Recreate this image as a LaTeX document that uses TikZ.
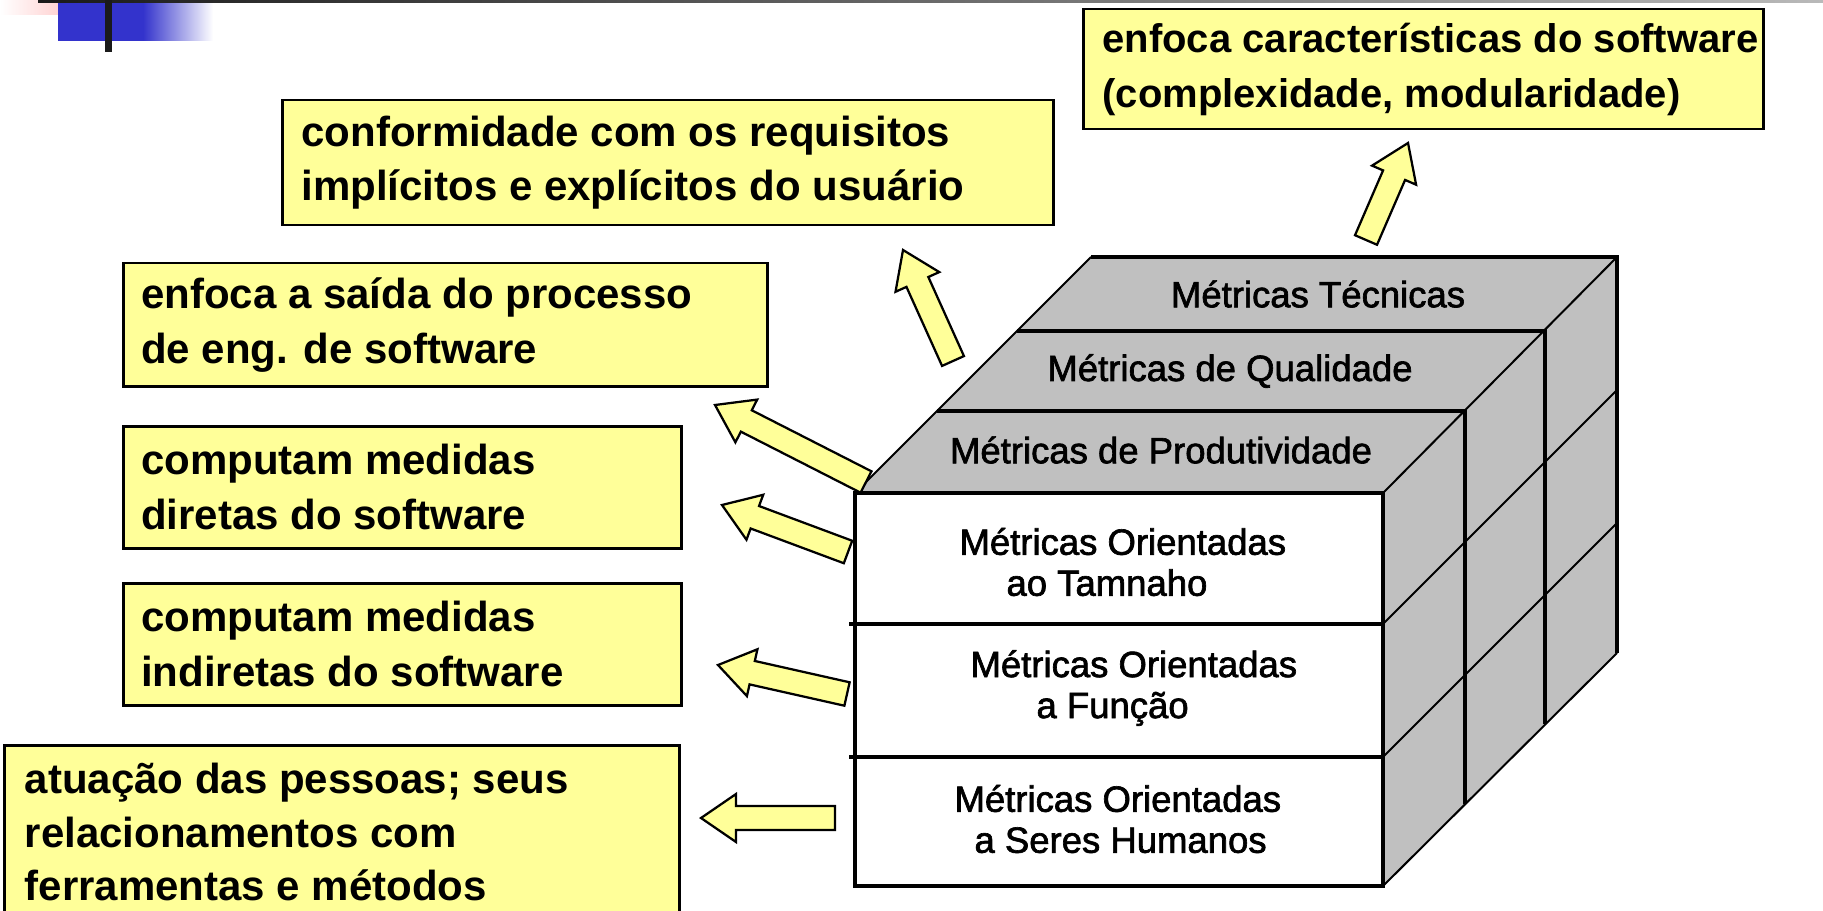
\documentclass[tikz,border=0pt]{standalone}
\usepackage{fontspec}
\setmainfont{Liberation Sans}
\newfontfamily\cubefont[FakeBold=1.8]{Liberation Sans}
\usetikzlibrary{calc,positioning}
\definecolor{noteyellow}{HTML}{FFFF99}
\definecolor{facegray}{HTML}{C0C0C0}
\definecolor{titleblue}{HTML}{3333CC}
\definecolor{barblack}{HTML}{1A1A1A}
\definecolor{titlepink}{HTML}{FFBDBD}
\tikzset{
  notebox/.style={draw=black, line width=1pt, fill=noteyellow, anchor=north west, inner sep=0pt},
  notetext/.style={anchor=west, align=left, inner sep=0pt, font=\bfseries\fontsize{16.8}{21.9}\selectfont},
  arrowbody/.style={draw=black, line width=0.9pt, fill=noteyellow, line join=miter},
  cubeline/.style={line width=1.3pt},
  cubethin/.style={line width=0.8pt},
  cubetext/.style={align=left, inner sep=0pt, font=\cubefont\fontsize{14.6}{16.4}\selectfont}
}
% block arrow from tail #1 to tip #2
\newcommand \blockarrow[2]
{
\draw[arrowbody] let \p1=($(#2)-(#1)$), \n1={atan2(\y1,\x1)}, \n2={veclen(\x1,\y1)-14pt} in
  ($(#1)+(\n1+90:4.8pt)$) -- ($(#1)+(\n1:\n2)+(\n1+90:4.8pt)$) -- ($(#1)+(\n1:\n2)+(\n1+90:9.6pt)$) -- (#2)
  -- ($(#1)+(\n1:\n2)+(\n1-90:9.6pt)$) -- ($(#1)+(\n1:\n2)+(\n1-90:4.8pt)$) -- ($(#1)+(\n1-90:4.8pt)$) -- cycle;
}
\begin{document}
\begin{tikzpicture}[x=0.4pt, y=-0.4pt, line join=miter]
\useasboundingbox[fill=white] (0,0) rectangle (1823,911);
\clip (0,0) rectangle (1823,911);
% title decoration
\shade[left color=white, right color=titlepink] (0,0) rectangle (90,15);
\fill[titleblue] (58,3) rectangle (143,41);
\shade[left color=titleblue, right color=white] (143,3) rectangle (213,41);
\shade[left color=barblack, right color=gray!55] (38,0) rectangle (1823,3);
\fill[barblack] (105,0) rectangle (112,52);

% cube faces
\fill[facegray] (855,493)--(1383,493)--(1617,257)--(1091,257)--cycle;
\fill[facegray] (1383,493)--(1617,257)--(1617,653)--(1383,886)--cycle;
\fill[white] (855,493) rectangle (1383,886);
\draw[cubethin] (855,493)--(1091,257);
\draw[cubethin] (1383,493)--(1617,257);
\draw[cubethin] (1383,624)--(1617,390);
\draw[cubethin] (1383,757)--(1617,523);
\draw[cubethin] (1383,886)--(1617,653);
\draw[cubeline] (1091,257)--(1617,257)--(1617,653);
\draw[cubeline] (1017,331)--(1545,331)--(1545,724);
\draw[cubeline] (937,411)--(1465,411)--(1465,804);
\draw[cubeline] (855,493) rectangle (1383,886);
\draw[cubeline] (849,624)--(1383,624);
\draw[cubeline] (849,757)--(1383,757);

% cube labels
\node[cubetext, anchor=center] (tec)  at (1318,294) {Métricas Técnicas};
\node[cubetext, anchor=center] (qual) at (1230,371) {Métricas de Qualidade};
\node[cubetext, anchor=center] (prod) at (1161,450) {Métricas de Produtividade};
\node[cubetext, anchor=west] (tam) at (959,562) {Métricas Orientadas\\\hspace*{18.8pt}ao Tamnaho};
\node[cubetext, anchor=west] (func) at (970,688) {Métricas Orientadas\\\hspace*{26.4pt}a Função};
\node[cubetext, anchor=west] (hum) at (954,819) {Métricas Orientadas\\\hspace*{8pt}a Seres Humanos};

% notes
\node[notebox, minimum width=272pt, minimum height=48pt] (tecbox) at (1082,8) {};
\node[notetext, font=\bfseries\fontsize{16}{21.9}\selectfont] (tecnote) at ([xshift=8pt]tecbox.west) {enfoca características do software\\(complexidade, modularidade)};
\node[notebox, minimum width=308.4pt, minimum height=50pt] (qualbox) at (281,99) {};
\node[notetext] (qualnote) at ([xshift=8pt]qualbox.west) {conformidade com os requisitos\\implícitos e explícitos do usuário};
\node[notebox, minimum width=257.6pt, minimum height=49.2pt] (prodbox) at (122,262) {};
\node[notetext] (prodnote) at ([xshift=7.5pt]prodbox.west) {enfoca a saída do processo\\de eng. de software};
\node[notebox, minimum width=223.2pt, minimum height=48.8pt] (tambox) at (122,425) {};
\node[notetext] (tamnote) at ([xshift=7.5pt]tambox.west) {computam medidas\\diretas do software};
\node[notebox, minimum width=223.2pt, minimum height=48.8pt] (funcbox) at (122,582) {};
\node[notetext] (funcnote) at ([xshift=7.5pt]funcbox.west) {computam medidas\\indiretas do software};
\node[notebox, minimum width=270pt, minimum height=74.4pt] (humbox) at (3,744) {};
\node[notetext, font=\bfseries\fontsize{16.8}{21.4}\selectfont] (humnote) at ([xshift=8.5pt,yshift=2.4pt]humbox.west) {atuação das pessoas; seus\\relacionamentos com\\ferramentas e métodos};

% arrows
\coordinate (tecTail)  at (1366,240); \coordinate (tecTip)  at (1408,143);
\coordinate (qualTail) at (953,361);  \coordinate (qualTip) at (903,250);
\coordinate (prodTail) at (866,482);  \coordinate (prodTip) at (715,405);
\coordinate (tamTail)  at (848,552);  \coordinate (tamTip)  at (722,505);
\coordinate (funcTail) at (847,694);  \coordinate (funcTip) at (718,665);
\coordinate (humTail)  at (835,818);  \coordinate (humTip)  at (701,818);
\blockarrow{tecTail}{tecTip}
\blockarrow{qualTail}{qualTip}
\blockarrow{prodTail}{prodTip}
\blockarrow{tamTail}{tamTip}
\blockarrow{funcTail}{funcTip}
\blockarrow{humTail}{humTip}
\end{tikzpicture}
\end{document}
